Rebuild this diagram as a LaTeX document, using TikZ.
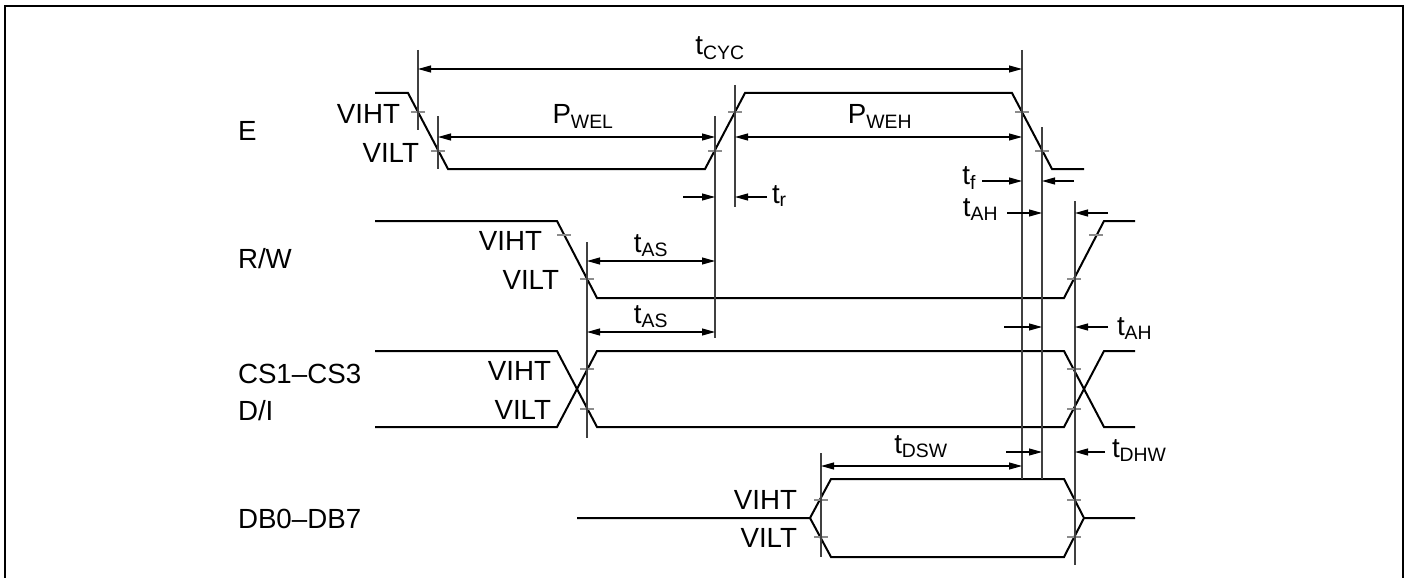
\documentclass[tikz,border=0pt]{standalone}
\usepackage{fontspec}
\setmainfont{Liberation Sans}
\usetikzlibrary{arrows.meta}
\begin{document}
\begin{tikzpicture}[x=1pt,y=-1pt,
  sig/.style={line width=2pt, line join=miter, black},
  vline/.style={line width=1.1pt, black!75},
  tickmark/.style={line width=1.3pt, black!45},
  onearrow/.style={line width=1.1pt, -{Triangle[length=13pt,width=7pt]}},
  twoarrow/.style={line width=1.1pt, {Triangle[length=13pt,width=7pt]}-{Triangle[length=13pt,width=7pt]}},
  lbl/.style={font=\fontsize{27.7}{33}\selectfont, inner sep=0pt, outer sep=0pt},
  frameline/.style={line width=2pt, black}
]
\useasboundingbox (0,0) rectangle (1409,578);
% frame
\draw[frameline] (5,578) coordinate (fbl) -- (5,6) coordinate (ftl) -- (1403,6) coordinate (ftr) -- (1403,578) coordinate (fbr);

% signal names
\node[lbl, anchor=base west] (nE) at (238,140) {E};
\node[lbl, anchor=base west] (nRW) at (238,268) {R/W};
\node[lbl, anchor=base west] (nCS) at (238,383) {CS1–CS3};
\node[lbl, anchor=base west] (nDI) at (238,420) {D/I};
\node[lbl, anchor=base west] (nDB) at (238,528) {DB0–DB7};

% waveforms
\draw[sig] (375,93) -- (408,93) -- (448,169) -- (705,169) -- (745,93) -- (1012,93) -- (1052,169) -- (1084,169);
\draw[sig] (375,221) -- (557,221) -- (597,298) -- (1064,298) -- (1104,221) -- (1135,221);
\draw[sig] (375,351) -- (557,351) -- (597,427) -- (1064,427) -- (1104,351) -- (1135,351);
\draw[sig] (375,427) -- (557,427) -- (597,351) -- (1064,351) -- (1104,427) -- (1135,427);
\draw[sig] (577,518) -- (810,518) -- (831,479) -- (1064,479) -- (1084,518) -- (1135,518);
\draw[sig] (810,518) -- (831,557) -- (1064,557) -- (1084,518);

% threshold ticks
\foreach \x/\y in {418/112, 438/151, 715/151, 735/112, 1022/112, 1042/151,
                   564/235, 587/279, 1074/279, 1096/235,
                   587/369, 587/409, 1074/369, 1074/409,
                   821/500, 821/537, 1074/500, 1074/537}
  \draw[tickmark] (\x-7,\y) -- (\x+7,\y);

% vertical reference lines
\draw[vline] (418,50) coordinate (a1) -- (418,130) coordinate (a2);
\draw[vline] (438,116) coordinate (b1) -- (438,169) coordinate (b2);
\draw[vline] (715,116) coordinate (c1) -- (715,338) coordinate (c2);
\draw[vline] (735,85) coordinate (d1) -- (735,207) coordinate (d2);
\draw[vline] (1022,50) coordinate (e1) -- (1022,479) coordinate (e2);
\draw[vline] (1042,127) coordinate (f1) -- (1042,479) coordinate (f2);
\draw[vline] (1075,201) coordinate (g1) -- (1075,565) coordinate (g2);
\draw[vline] (587,242) coordinate (h1) -- (587,438) coordinate (h2);
\draw[vline] (821,453) coordinate (i1) -- (821,557) coordinate (i2);

% dimension arrows
\draw[twoarrow] (418,69) coordinate (cycL) -- (1022,69) coordinate (cycR);
\draw[twoarrow] (438,137) coordinate (welL) -- (715,137) coordinate (welR);
\draw[twoarrow] (735,137) coordinate (wehL) -- (1022,137) coordinate (wehR);
\draw[twoarrow] (587,261) coordinate (as1L) -- (715,261) coordinate (as1R);
\draw[twoarrow] (587,332) coordinate (as2L) -- (715,332) coordinate (as2R);
\draw[twoarrow] (821,466) coordinate (dswL) -- (1022,466) coordinate (dswR);

\draw[onearrow] (683,197) coordinate (trA) -- (715,197) coordinate (trB);
\draw[onearrow] (767,197) coordinate (trC) -- (735,197) coordinate (trD);
\draw[onearrow] (982,181) coordinate (tfA) -- (1022,181) coordinate (tfB);
\draw[onearrow] (1074,181) coordinate (tfC) -- (1042,181) coordinate (tfD);
\draw[onearrow] (1007,213) coordinate (ah1A) -- (1042,213) coordinate (ah1B);
\draw[onearrow] (1108,213) coordinate (ah1C) -- (1075,213) coordinate (ah1D);
\draw[onearrow] (1004,327) coordinate (ah2A) -- (1042,327) coordinate (ah2B);
\draw[onearrow] (1108,327) coordinate (ah2C) -- (1075,327) coordinate (ah2D);
\draw[onearrow] (1006,452) coordinate (dhA) -- (1042,452) coordinate (dhB);
\draw[onearrow] (1105,452) coordinate (dhC) -- (1075,452) coordinate (dhD);

% timing labels
\node[lbl, anchor=base] (lcyc) at (720,55) {t\textsubscript{CYC}};
\node[lbl, anchor=base] (lwel) at (583,124) {P\textsubscript{WEL}};
\node[lbl, anchor=base] (lweh) at (880,124) {P\textsubscript{WEH}};
\node[lbl, anchor=base] (las1) at (651,252) {t\textsubscript{AS}};
\node[lbl, anchor=base] (las2) at (651,323) {t\textsubscript{AS}};
\node[lbl, anchor=base] (ldsw) at (921,453) {t\textsubscript{DSW}};
\node[lbl, anchor=base west] (ltr) at (772,203) {t\textsubscript{r}};
\node[lbl, anchor=base east] (ltf) at (976,184) {t\textsubscript{f}};
\node[lbl, anchor=base east] (lah1) at (998,216) {t\textsubscript{AH}};
\node[lbl, anchor=base west] (lah2) at (1117,335) {t\textsubscript{AH}};
\node[lbl, anchor=base west] (ldhw) at (1112,457) {t\textsubscript{DHW}};

% threshold labels
\node[lbl, anchor=base east] (eh) at (400,124) {VIHT};
\node[lbl, anchor=base east] (el) at (419,162) {VILT};
\node[lbl, anchor=base east] (rh) at (542,250) {VIHT};
\node[lbl, anchor=base east] (rl) at (559,289) {VILT};
\node[lbl, anchor=base east] (ch) at (551,380) {VIHT};
\node[lbl, anchor=base east] (cl) at (551,419) {VILT};
\node[lbl, anchor=base east] (dh) at (797,509) {VIHT};
\node[lbl, anchor=base east] (dl) at (797,547) {VILT};
\end{tikzpicture}
\end{document}
